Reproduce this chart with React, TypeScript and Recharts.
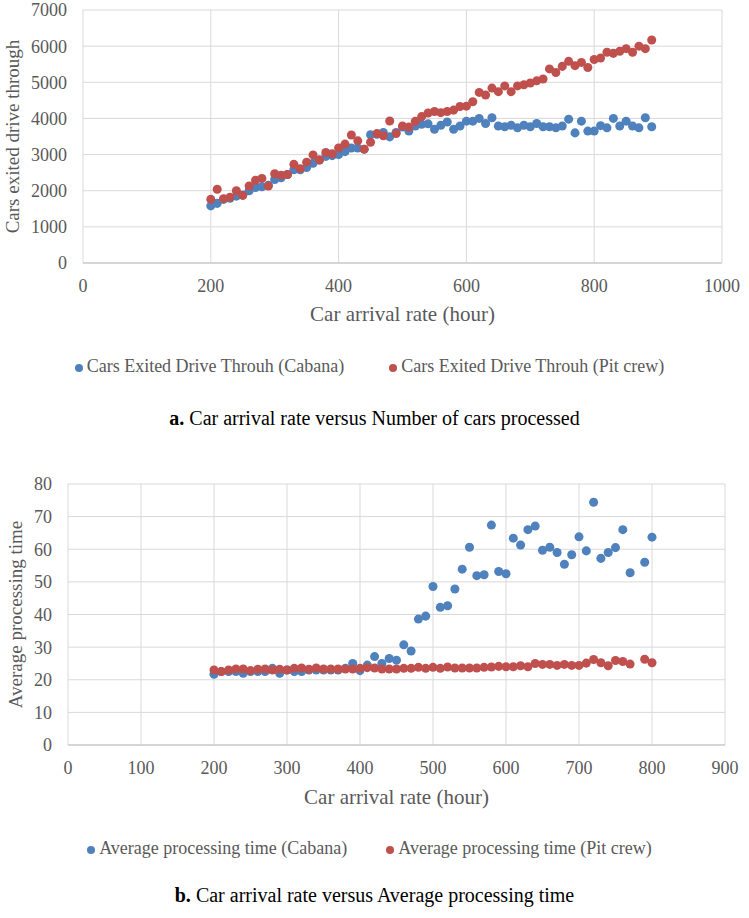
import React from 'react';
import { ScatterChart, Scatter, XAxis, YAxis, CartesianGrid, Legend } from 'recharts';

// panel a: car arrival rate vs cars exited drive through
const rateA = [
  200, 210, 220, 230, 240, 250, 260, 270, 280, 290,
  300, 310, 320, 330, 340, 350, 360, 370, 380, 390,
  400, 410, 420, 430, 440, 450, 460, 470, 480, 490,
  500, 510, 520, 530, 540, 550, 560, 570, 580, 590,
  600, 610, 620, 630, 640, 650, 660, 670, 680, 690,
  700, 710, 720, 730, 740, 750, 760, 770, 780, 790,
  800, 810, 820, 830, 840, 850, 860, 870, 880, 890,
];
const exitedCabana = [
  1580, 1650, 1760, 1790, 1850, 1880, 2000, 2090, 2110, 2150,
  2310, 2360, 2450, 2580, 2580, 2640, 2760, 2850, 2950, 2970,
  3000, 3080, 3180, 3180, 3150, 3550, 3560, 3610, 3490, 3610,
  3760, 3650, 3790, 3840, 3850, 3700, 3810, 3900, 3700, 3790,
  3925, 3925, 4000, 3860, 4020, 3790, 3770, 3810, 3740, 3810,
  3770, 3860, 3770, 3770, 3740, 3790, 3980, 3600, 3925, 3650,
  3650, 3800, 3740, 4000, 3790, 3925, 3790, 3740, 4020, 3770,
];
const exitedPitCrew = [
  1760, 2040, 1780, 1820, 2000, 1870, 2130, 2290, 2340, 2130,
  2470, 2430, 2450, 2730, 2610, 2790, 2990, 2850, 3060, 3020,
  3180, 3290, 3540, 3380, 3150, 3340, 3580, 3520, 3930, 3580,
  3790, 3760, 3920, 4050, 4150, 4190, 4160, 4190, 4230, 4330,
  4340, 4460, 4720, 4650, 4840, 4740, 4900, 4740, 4900, 4930,
  4980, 5040, 5090, 5370, 5270, 5440, 5580, 5460, 5550, 5410,
  5630, 5670, 5830, 5800, 5860, 5930, 5830, 6000, 5930, 6170,
];
const xTicksA = [0, 200, 400, 600, 800, 1000];
const yTicksA = [0, 1000, 2000, 3000, 4000, 5000, 6000, 7000];

// panel b: car arrival rate vs average processing time (no run at 780)
const rateB = [
  200, 210, 220, 230, 240, 250, 260, 270, 280, 290,
  300, 310, 320, 330, 340, 350, 360, 370, 380, 390,
  400, 410, 420, 430, 440, 450, 460, 470, 480, 490,
  500, 510, 520, 530, 540, 550, 560, 570, 580, 590,
  600, 610, 620, 630, 640, 650, 660, 670, 680, 690,
  700, 710, 720, 730, 740, 750, 760, 770, 790, 800,
];
const timeCabana = [
  21.7, 22.5, 22.5, 22.5, 22.0, 22.5, 22.5, 22.5, 23.5, 22.0,
  23.0, 22.5, 22.5, 23.0, 23.0, 23.0, 23.0, 23.0, 23.5, 25.0,
  22.8, 24.5, 27.1, 25.0, 26.5, 26.0, 30.7, 28.8, 38.6, 39.5,
  48.6, 42.2, 42.7, 47.8, 53.9, 60.6, 51.9, 52.2, 67.4, 53.2,
  52.5, 63.4, 61.3, 66.0, 67.1, 59.7, 60.6, 59.0, 55.4, 58.3,
  63.8, 59.5, 74.4, 57.2, 59.0, 60.5, 66.0, 52.8, 56.0, 63.7,
];
const timePitCrew = [
  23.0, 22.5, 23.0, 23.3, 23.3, 22.8, 23.2, 23.3, 23.0, 23.2,
  23.0, 23.5, 23.6, 23.2, 23.6, 23.3, 23.3, 23.3, 23.3, 23.3,
  23.5, 23.7, 23.6, 23.3, 23.3, 23.3, 23.5, 23.5, 23.8, 23.5,
  23.8, 23.5, 23.9, 23.6, 23.6, 23.6, 23.6, 23.8, 23.9, 24.1,
  24.0, 24.0, 24.3, 24.0, 25.0, 24.7, 24.7, 24.4, 24.7, 24.4,
  24.4, 25.1, 26.2, 25.2, 24.3, 25.9, 25.6, 24.8, 26.3, 25.2,
];
const xTicksB = [0, 100, 200, 300, 400, 500, 600, 700, 800, 900];
const yTicksB = [0, 10, 20, 30, 40, 50, 60, 70, 80];

const BLUE = '#4F81BD';
const RED = '#C0504D';
const GREY = '#595959';
const FONT = '"Liberation Serif", "Times New Roman", serif';

const toPoints = (xs: number[], ys: number[]) => xs.map((x, i) => ({ x, y: ys[i] }));

interface PanelProps {
  height: number;
  margin: { top: number; right: number; bottom: number; left: number };
  yAxisWidth: number;
  xTicks: number[];
  yTicks: number[];
  xTitle: string;
  yTitle: string;
  yTitleOffset: number;
  xTitleOffset: number;
  legendGap: number;
  series: { name: string; color: string; data: { x: number; y: number }[] }[];
}

function Panel(p: PanelProps) {
  return (
    <ScatterChart width={749} height={p.height} margin={p.margin}>
      <CartesianGrid stroke="#d9d9d9" />
      <XAxis
        type="number"
        dataKey="x"
        domain={[p.xTicks[0], p.xTicks[p.xTicks.length - 1]]}
        ticks={p.xTicks}
        interval={0}
        height={91}
        tickLine={false}
        tickSize={0}
        tickMargin={16}
        axisLine={{ stroke: '#bfbfbf' }}
        tick={{ fontSize: 18, fill: GREY, fontFamily: FONT }}
        label={{
          value: p.xTitle,
          position: 'insideBottom',
          offset: p.xTitleOffset,
          style: { fontSize: 21, fill: GREY, fontFamily: FONT },
        }}
      />
      <YAxis
        type="number"
        dataKey="y"
        domain={[p.yTicks[0], p.yTicks[p.yTicks.length - 1]]}
        ticks={p.yTicks}
        interval={0}
        width={p.yAxisWidth}
        tickLine={false}
        tickSize={0}
        tickMargin={16}
        axisLine={false}
        tick={{ fontSize: 18, fill: GREY, fontFamily: FONT }}
        label={{
          value: p.yTitle,
          angle: -90,
          position: 'insideLeft',
          offset: p.yTitleOffset,
          style: { textAnchor: 'middle', fontSize: 19, fill: GREY, fontFamily: FONT },
        }}
      />
      <Legend
        verticalAlign="bottom"
        iconType="circle"
        iconSize={8}
        wrapperStyle={{ left: 0, width: 749, height: 24, lineHeight: '24px', fontSize: 18, fontFamily: FONT }}
        formatter={(value, _entry, index) => (
          <span style={{ color: GREY, marginRight: index === 0 ? p.legendGap : 0 }}>{value}</span>
        )}
      />
      {p.series.map((s) => (
        <Scatter key={s.name} name={s.name} data={s.data} fill={s.color} isAnimationActive={false} />
      ))}
    </ScatterChart>
  );
}

const captionStyle: React.CSSProperties = {
  position: 'absolute',
  left: 0,
  width: 749,
  textAlign: 'center',
  fontFamily: FONT,
  fontSize: 20,
  color: '#000',
};

export default function App() {
  return (
    <div style={{ position: 'absolute', left: 0, top: 0, width: 749, height: 918, background: '#fff' }}>
      <div style={{ position: 'absolute', left: 0, top: 0 }}>
        <Panel
          height={392}
          margin={{ top: 10, right: 27, bottom: 14, left: 0 }}
          yAxisWidth={83}
          xTicks={xTicksA}
          yTicks={yTicksA}
          xTitle="Car arrival rate (hour)"
          yTitle="Cars exited drive through"
          yTitleOffset={12}
          xTitleOffset={33}
          legendGap={35}
          series={[
            { name: 'Cars Exited Drive Throuh (Cabana)', color: BLUE, data: toPoints(rateA, exitedCabana) },
            { name: 'Cars Exited Drive Throuh (Pit crew)', color: RED, data: toPoints(rateA, exitedPitCrew) },
          ]}
        />
      </div>
      <div style={{ ...captionStyle, top: 407 }}>
        <b>a.</b> Car arrival rate versus Number of cars processed
      </div>
      <div style={{ position: 'absolute', left: 0, top: 460 }}>
        <Panel
          height={410}
          margin={{ top: 24, right: 24, bottom: 10, left: 0 }}
          yAxisWidth={68}
          xTicks={xTicksB}
          yTicks={yTicksB}
          xTitle="Car arrival rate (hour)"
          yTitle="Average processing time"
          yTitleOffset={15}
          xTitleOffset={32}
          legendGap={29}
          series={[
            { name: 'Average processing time (Cabana)', color: BLUE, data: toPoints(rateB, timeCabana) },
            { name: 'Average processing time (Pit crew)', color: RED, data: toPoints(rateB, timePitCrew) },
          ]}
        />
      </div>
      <div style={{ ...captionStyle, top: 884 }}>
        <b>b.</b> Car arrival rate versus Average processing time
      </div>
    </div>
  );
}
